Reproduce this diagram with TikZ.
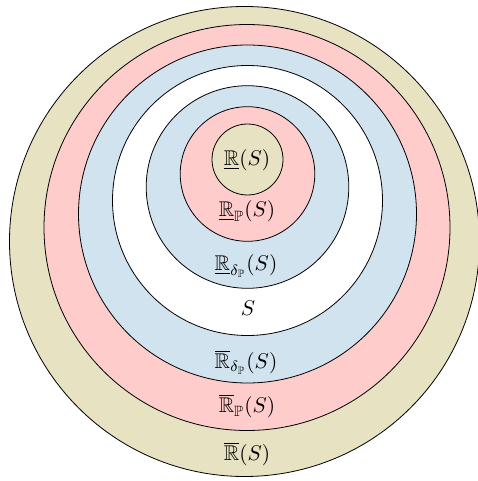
\documentclass[tikz,border=0pt]{standalone}
\usepackage{amssymb}
\definecolor{ringbeige}{HTML}{E6E2C2}
\definecolor{ringpink}{HTML}{FFCCCC}
\definecolor{ringblue}{HTML}{D0E3EE}
\tikzset{
  ring/.style={draw=black, line width=0.8pt},
  lbl/.style={scale=2.13, inner sep=0pt}
}
\begin{document}
\begin{tikzpicture}[x=1pt,y=-1pt]
\useasboundingbox (0,0) rectangle (478,481);
\fill[white] (0,0) rectangle (478,481);
\draw[ring, fill=ringbeige] (244.5,241.5) circle (235);
\draw[ring, fill=ringpink]  (247,227.5) circle (203);
\draw[ring, fill=ringblue]  (247.5,214) circle (169);
\draw[ring, fill=white]     (247.5,200.5) circle (135);
\draw[ring, fill=ringblue]  (247.5,187) circle (101.3);
\draw[ring, fill=ringpink]  (247.5,174) circle (67.3);
\draw[ring, fill=ringbeige] (247.5,159.5) circle (35.5);
\node[lbl] (r1) at (247,160) {$\underline{\mathbb{R}}(S)$};
\node[lbl] (r2) at (247,211) {$\underline{\mathbb{R}}_{\mathbb{P}}(S)$};
\node[lbl] (r3) at (246,266) {$\underline{\mathbb{R}}_{\delta_{\mathbb{P}}}(S)$};
\node[lbl] (s)  at (248,308) {$S$};
\node[lbl] (r4) at (246,362) {$\overline{\mathbb{R}}_{\delta_{\mathbb{P}}}(S)$};
\node[lbl] (r5) at (247,406) {$\overline{\mathbb{R}}_{\mathbb{P}}(S)$};
\node[lbl] (r6) at (247,454) {$\overline{\mathbb{R}}(S)$};
\end{tikzpicture}
\end{document}
